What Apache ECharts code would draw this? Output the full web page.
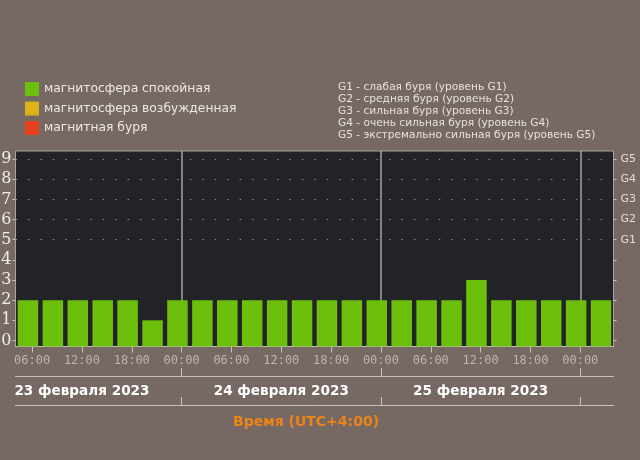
<!DOCTYPE html>
<html>
<head>
<meta charset="utf-8">
<style>
html,body{margin:0;padding:0;background:#766863;}
#chart{width:640px;height:460px;}
</style>
<script src="https://cdn.jsdelivr.net/npm/echarts@6/dist/echarts.min.js"></script>
</head>
<body>
<div id="chart"></div>
<script>
// ---- data ----
const intervalStartHour = 4;      // first 3-hour interval starts 23 Feb 04:00 local (UTC+4)
const intervalHours = 3;
const kpValues = [2,2,2,2,2,1,2,2, 2,2,2,2,2,2,2,2, 2,2,3,2,2,2,2,2];
const tickHours = [6,12,18,24,30,36,42,48,54,60,66,72];
const tickLabels = ['06:00','12:00','18:00','00:00','06:00','12:00','18:00','00:00','06:00','12:00','18:00','00:00'];
const midnightHours = [24,48,72];
const dayNoonHours = [12,36,60];
const dayLabels = ['23 февраля 2023','24 февраля 2023','25 февраля 2023'];
const kpTicks = [0,1,2,3,4,5,6,7,8,9];
const gLevelKp = [5,6,7,8,9];
const gLevelLabels = ['G1','G2','G3','G4','G5'];
const dottedRows = [5,6,7,8,9];
const legendNames = ['магнитосфера спокойная','магнитосфера возбужденная','магнитная буря'];
const gLegendLines = [
  'G1 - слабая буря (уровень G1)',
  'G2 - средняя буря (уровень G2)',
  'G3 - сильная буря (уровень G3)',
  'G4 - очень сильная буря (уровень G4)',
  'G5 - экстремально сильная буря (уровень G5)'
];
const axisTitle = 'Время (UTC+4:00)';

// ---- build ----
const xMin = intervalStartHour;
const xMax = intervalStartHour + kpValues.length * intervalHours;
function pts(filter){
  return kpValues.map((v,i)=>[intervalStartHour + intervalHours*i + intervalHours/2, filter(v) ? v : '-']);
}
const colors = ['#6cc00c','#dcb418','#e8421c'];
const light = '#c9c2be';

const chart = echarts.init(document.getElementById('chart'), null, {renderer:'canvas'});
chart.setOption({
  animation:false,
  backgroundColor:'#766863',
  title:[
    {text:gLegendLines.join('\n'), left:338, top:81,
     textStyle:{color:'#e6e2de', fontSize:10.6, fontWeight:'normal', fontFamily:'DejaVu Sans', lineHeight:12}, padding:0},
    {text:axisTitle, left:233, top:415,
     textStyle:{color:'#ee8418', fontSize:14, fontWeight:'bold', fontFamily:'DejaVu Sans'}, padding:0}
  ],
  legend:{
    data:legendNames, orient:'vertical', left:25, top:82, padding:0,
    itemWidth:14, itemHeight:14, itemGap:5.5, itemTextGap:4, icon:'rect',
    selectedMode:false,
    textStyle:{color:'#ece8e4', fontSize:12.3, fontFamily:'DejaVu Sans'}
  },
  grid:[
    {left:15.5, right:26.5, top:151, bottom:113.5, show:true, backgroundColor:'#222326',
     borderColor:'#a9a3a0', borderWidth:1, outerBoundsMode:'none', containLabel:false},
    {left:15.5, right:26.5, top:376, height:29, show:false, outerBoundsMode:'none', containLabel:false}
  ],
  xAxis:[
    {type:'value', gridIndex:0, min:xMin, max:xMax, position:'bottom',
     axisLine:{show:true, onZero:false, lineStyle:{color:light, width:1}},
     axisTick:{show:true, customValues:tickHours, length:6, lineStyle:{color:light}},
     axisLabel:{show:true, customValues:tickHours, margin:8, color:'#bdb5b1', fontSize:12, fontFamily:'DejaVu Sans Mono',
       formatter:(v)=>tickLabels[tickHours.indexOf(v)]},
     splitLine:{show:false}},
    {type:'value', gridIndex:1, min:xMin, max:xMax, position:'top',
     axisLine:{show:true, onZero:false, lineStyle:{color:light, width:1}},
     axisTick:{show:true, customValues:midnightHours, length:8, inside:false, lineStyle:{color:light}},
     axisLabel:{show:false}, splitLine:{show:false}},
    {type:'value', gridIndex:1, min:xMin, max:xMax, position:'bottom',
     axisLine:{show:true, onZero:false, lineStyle:{color:light, width:1}},
     axisTick:{show:true, customValues:midnightHours, length:8, inside:true, lineStyle:{color:light}},
     axisLabel:{show:true, inside:true, customValues:dayNoonHours, margin:7, color:'#ffffff', fontSize:13.6,
       fontWeight:'bold', fontFamily:'DejaVu Sans', formatter:(v)=>dayLabels[dayNoonHours.indexOf(v)]},
     splitLine:{show:false}}
  ],
  yAxis:[
    {type:'value', gridIndex:0, min:-0.3, max:9.4, startValue:-0.3, position:'left',
     axisLine:{show:false, onZero:false},
     axisTick:{show:true, customValues:kpTicks, length:3, lineStyle:{color:light}},
     axisLabel:{show:true, customValues:kpTicks, margin:4, color:'#f0ece8', fontSize:16, fontFamily:'DejaVu Serif'},
     splitLine:{show:false}},
    {type:'value', gridIndex:0, min:-0.3, max:9.4, position:'right',
     axisLine:{show:false, onZero:false},
     axisTick:{show:true, customValues:kpTicks, length:3, lineStyle:{color:light}},
     axisLabel:{show:true, customValues:gLevelKp, margin:7, color:'#e2ddd9', fontSize:11, fontFamily:'DejaVu Sans',
       formatter:(v)=>gLevelLabels[gLevelKp.indexOf(v)]},
     splitLine:{show:false}},
    {type:'value', gridIndex:1, min:0, max:1, show:false}
  ],
  series:[
    {name:legendNames[0], type:'bar', xAxisIndex:0, yAxisIndex:0, barWidth:20.5, barGap:'-100%',
     itemStyle:{color:colors[0]}, data:pts(v=>v<4), z:2,
     markLine:{silent:true, symbol:'none', z:1, label:{show:false},
       data:[
         ...midnightHours.map(h=>({xAxis:h, lineStyle:{color:'#a8a3a0', width:1.5, type:'solid'}})),
         ...dottedRows.map(k=>({yAxis:k, lineStyle:{color:'#8c8c8c', width:1, type:[1.5,10.95]}}))
       ]}},
    {name:legendNames[1], type:'bar', xAxisIndex:0, yAxisIndex:0, barWidth:20.5, barGap:'-100%',
     itemStyle:{color:colors[1]}, data:pts(v=>v===4), z:2},
    {name:legendNames[2], type:'bar', xAxisIndex:0, yAxisIndex:0, barWidth:20.5, barGap:'-100%',
     itemStyle:{color:colors[2]}, data:pts(v=>v>=5), z:2}
  ]
});
</script>
</body>
</html>
